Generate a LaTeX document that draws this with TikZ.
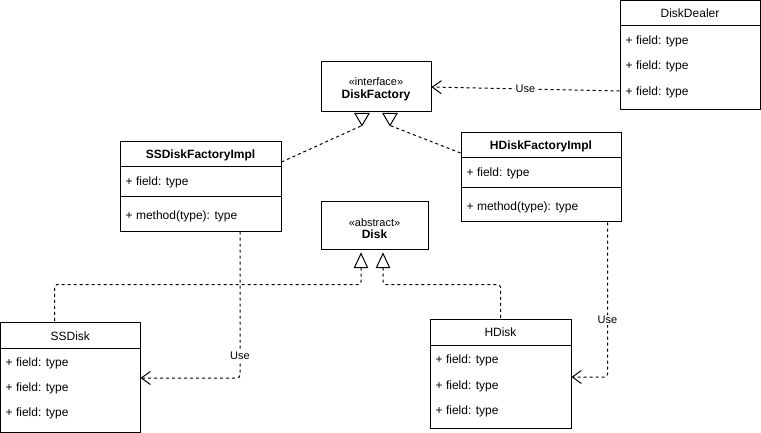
\documentclass[tikz,border=0pt]{standalone}
\usepackage{fontspec}
\setmainfont{Liberation Sans}
\usetikzlibrary{arrows.meta,calc}

\tikzset{
  umlbox/.style={draw, line width=1pt, fill=white, inner sep=0pt},
  title/.style={inner sep=0pt, font=\fontsize{12}{14}\selectfont, text height=10pt, text depth=1.5pt},
  btitle/.style={title, font=\fontsize{12}{14}\selectfont\bfseries},
  stereo/.style={title, font=\fontsize{11}{13}\selectfont},
  field/.style={title, anchor=west},
  sep/.style={line width=1pt},
  dep/.style={line width=1pt, dash pattern=on 3pt off 3pt},
  usearrow/.style={dep, rounded corners=3pt, -{Straight Barb[length=9pt,width=13pt,line width=1pt]}},
  uselabel/.style={fill=white, inner sep=1pt, font=\fontsize{11}{13}\selectfont},
  tri/.style={line width=1pt, fill=white, line join=miter},
}

\begin{document}
\begin{tikzpicture}[x=1pt, y=-1pt]
\useasboundingbox (0,0) rectangle (761,433);

% ---- DiskDealer ----
\node[umlbox, minimum width=140pt, minimum height=109.5pt] (dealer) at (690,55.25) {};
\draw[sep] (620,26) -- (760,26);
\node[title] (dealert) at (690,13) {DiskDealer};
\node[field] (dealerf1) at (625.5,40) {+ field: type};
\node[field] (dealerf2) at (625.5,65) {+ field: type};
\node[field] (dealerf3) at (625.5,91) {+ field: type};

% ---- DiskFactory interface ----
\node[umlbox, minimum width=110pt, minimum height=50pt] (factory) at (376,87) {};
\node[stereo] (factoryst) at (376,81.5) {«interface»};
\node[btitle] (factoryt) at (376,94.5) {DiskFactory};

% ---- SSDiskFactoryImpl ----
\node[umlbox, minimum width=161pt, minimum height=89pt] (ssfi) at (200.5,186.5) {};
\draw[sep] (120,167) -- (281,167);
\draw[sep] (120,197) -- (281,197);
\node[btitle] (ssfit) at (200.5,154.5) {SSDiskFactoryImpl};
\node[field] (ssfif) at (125.5,181.5) {+ field: type};
\node[field] (ssfim) at (125.5,215.5) {+ method(type): type};

% ---- HDiskFactoryImpl ----
\node[umlbox, minimum width=160pt, minimum height=89pt] (hfi) at (541,177.5) {};
\draw[sep] (461,158) -- (621,158);
\draw[sep] (461,188) -- (621,188);
\node[btitle] (hfit) at (541,145.5) {HDiskFactoryImpl};
\node[field] (hfif) at (466.5,172) {+ field: type};
\node[field] (hfim) at (466.5,206) {+ method(type): type};

% ---- Disk abstract ----
\node[umlbox, minimum width=107pt, minimum height=47pt] (disk) at (374.5,225.5) {};
\node[stereo] (diskst) at (374.5,222) {«abstract»};
\node[btitle] (diskt) at (374.5,234.5) {Disk};

% ---- SSDisk ----
\node[umlbox, minimum width=139.5pt, minimum height=110pt] (ssdisk) at (70.25,377) {};
\draw[sep] (0.5,348) -- (140,348);
\node[title] (ssdiskt) at (70.25,336) {SSDisk};
\node[field] (ssdiskf1) at (5.5,362) {+ field: type};
\node[field] (ssdiskf2) at (5.5,387) {+ field: type};
\node[field] (ssdiskf3) at (5.5,412.5) {+ field: type};

% ---- HDisk ----
\node[umlbox, minimum width=141pt, minimum height=109pt] (hdisk) at (500.5,373.5) {};
\draw[sep] (430,345) -- (571,345);
\node[title] (hdiskt) at (500.5,332) {HDisk};
\node[field] (hdiskf1) at (435.5,359.5) {+ field: type};
\node[field] (hdiskf2) at (435.5,385) {+ field: type};
\node[field] (hdiskf3) at (435.5,410) {+ field: type};

% ---- realization of DiskFactory ----
\coordinate (fl) at ($(factory.south)+(-14,13)$);
\coordinate (fr) at ($(factory.south)+(14,13)$);
\draw[dep] (ssfi.east |- 0,162) -- (fl);
\draw[dep] (hfi.west |- 0,153) -- (fr);
\draw[tri] (fl) -- ++(-7,-12) -- ++(14,0) -- cycle;
\draw[tri] (fr) -- ++(-7,-12) -- ++(14,0) -- cycle;

% ---- realization of Disk ----
\coordinate (dl) at ($(disk.south)+(-13.5,4)$);
\coordinate (dr) at ($(disk.south)+(8.5,4)$);
\draw[dep, rounded corners=3pt] ($(dl)+(0,14)$) -- ($(dl)+(0,31)$) -| ([xshift=54.5pt]ssdisk.north west);
\draw[dep, rounded corners=3pt] ($(dr)+(0,14)$) -- ($(dr)+(0,31)$) -| (hdisk.north);
\draw[tri] (dl) -- ++(-6.5,14) -- ++(13,0) -- cycle;
\draw[tri] (dr) -- ++(-6.5,14) -- ++(13,0) -- cycle;

% ---- usage dependencies ----
\draw[usearrow] (dealer.west |- dealerf3) -- (factory.east)
  node[uselabel, pos=0.5] (uselbl1) {Use};
\draw[usearrow] ([xshift=39.5pt]ssfi.south) |- ([yshift=-1pt]ssdisk.east)
  node[uselabel, pos=0.425] (uselbl2) {Use};
\draw[usearrow] ([xshift=66.5pt]hfi.south) |- ([yshift=-3.5pt]hdisk.east)
  node[uselabel, pos=0.316] (uselbl3) {Use};
\end{tikzpicture}
\end{document}
